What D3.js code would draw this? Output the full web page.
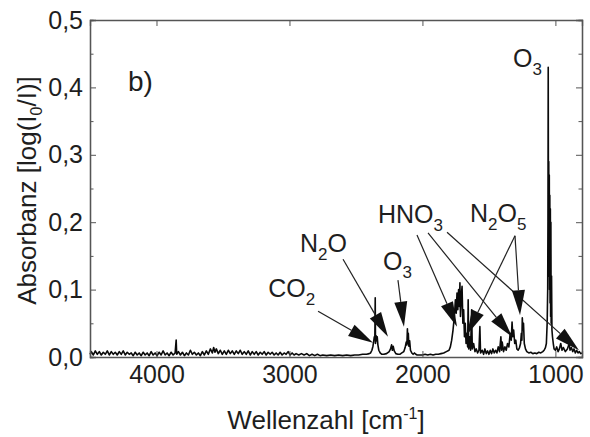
<!DOCTYPE html>
<html>
<head>
	<script src="https://d3js.org/d3.v7.min.js"></script>
	<style>
		body { margin: 0; background: #fff; }
		text { font-family: "Liberation Sans", Arial, sans-serif; fill: #1e1e1e; }
	</style>
</head>
<body>
<svg id="container"></svg>
</body>
<script>
// data: [wavenumber cm-1, absorbance]
let spectrum = [
	[4500,0.004],[4490,0.008],[4475,0.003],[4460,0.009],[4445,0.004],[4430,0.008],[4415,0.003],[4400,0.007],
	[4385,0.004],[4370,0.009],[4355,0.003],[4340,0.008],[4325,0.004],[4310,0.007],[4295,0.003],[4280,0.008],
	[4265,0.004],[4250,0.009],[4235,0.003],[4220,0.007],[4205,0.004],[4190,0.006],[4175,0.002],[4160,0.007],
	[4145,0.003],[4130,0.006],[4115,0.002],[4100,0.007],[4085,0.003],[4070,0.006],[4055,0.002],[4040,0.008],
	[4025,0.003],[4010,0.006],[3995,0.002],[3980,0.007],[3965,0.003],[3950,0.009],[3935,0.003],[3920,0.006],
	[3905,0.002],[3890,0.007],[3875,0.003],[3860,0.006],[3852,0.025],[3848,0.004],[3835,0.008],[3820,0.003],
	[3805,0.007],[3790,0.002],[3775,0.006],[3760,0.003],[3745,0.010],[3730,0.004],[3715,0.007],[3700,0.003],
	[3685,0.006],[3670,0.002],[3655,0.008],[3640,0.003],[3625,0.009],[3610,0.004],[3595,0.012],[3580,0.006],
	[3570,0.014],[3560,0.007],[3550,0.012],[3535,0.005],[3520,0.010],[3505,0.004],[3490,0.009],[3475,0.004],
	[3460,0.010],[3445,0.005],[3430,0.009],[3415,0.004],[3400,0.009],[3385,0.005],[3370,0.010],[3355,0.004],
	[3340,0.008],[3325,0.004],[3310,0.009],[3295,0.003],[3280,0.008],[3265,0.004],[3250,0.008],[3235,0.003],
	[3220,0.007],[3205,0.004],[3190,0.008],[3175,0.003],[3160,0.007],[3145,0.004],[3130,0.007],[3115,0.003],
	[3100,0.006],[3085,0.003],[3070,0.007],[3055,0.003],[3040,0.006],[3025,0.004],[3010,0.008],[2995,0.003],
	[2980,0.006],[2965,0.003],[2950,0.005],[2930,0.003],[2910,0.005],[2890,0.003],[2870,0.005],[2850,0.002],
	[2830,0.004],[2810,0.002],[2790,0.004],[2770,0.002],[2750,0.003],[2720,0.002],[2690,0.003],[2660,0.002],
	[2630,0.003],[2600,0.002],[2570,0.003],[2540,0.002],[2510,0.003],[2480,0.003],[2450,0.004],[2420,0.004],
	[2400,0.005],[2390,0.006],[2380,0.010],[2372,0.016],[2366,0.024],[2362,0.030],[2358,0.026],[2355,0.088],
	[2353,0.020],[2349,0.032],[2345,0.024],[2340,0.030],[2335,0.018],[2328,0.010],[2318,0.006],[2305,0.004],
	[2290,0.004],[2270,0.005],[2250,0.008],[2240,0.012],[2232,0.018],[2226,0.010],[2220,0.016],[2212,0.009],
	[2200,0.005],[2185,0.004],[2170,0.004],[2155,0.006],[2140,0.008],[2130,0.014],[2122,0.022],[2117,0.018],
	[2113,0.042],[2110,0.020],[2106,0.035],[2102,0.016],[2096,0.024],[2090,0.010],[2080,0.006],[2070,0.004],
	[2060,0.006],[2050,0.004],[2040,0.003],[2020,0.003],[2000,0.003],[1980,0.004],[1960,0.003],[1940,0.004],
	[1920,0.003],[1900,0.004],[1880,0.004],[1860,0.005],[1840,0.006],[1820,0.008],[1800,0.010],[1790,0.015],
	[1780,0.025],[1770,0.040],[1760,0.060],[1752,0.085],[1746,0.065],[1740,0.095],[1734,0.070],[1728,0.100],
	[1722,0.075],[1718,0.110],[1714,0.060],[1708,0.090],[1702,0.105],[1696,0.050],[1690,0.070],[1684,0.030],
	[1678,0.050],[1672,0.020],[1666,0.035],[1660,0.015],[1656,0.085],[1652,0.012],[1645,0.030],[1638,0.010],
	[1630,0.070],[1625,0.012],[1615,0.020],[1605,0.008],[1595,0.012],[1585,0.006],[1575,0.010],[1568,0.045],
	[1563,0.006],[1550,0.010],[1540,0.004],[1530,0.012],[1520,0.005],[1510,0.009],[1500,0.004],[1490,0.010],
	[1480,0.005],[1470,0.012],[1460,0.006],[1450,0.010],[1440,0.006],[1430,0.015],[1420,0.008],[1410,0.030],
	[1405,0.010],[1400,0.022],[1390,0.008],[1380,0.015],[1370,0.010],[1360,0.020],[1350,0.015],[1340,0.035],
	[1332,0.025],[1326,0.052],[1320,0.030],[1314,0.040],[1306,0.020],[1298,0.025],[1290,0.012],[1280,0.010],
	[1270,0.014],[1262,0.020],[1256,0.035],[1252,0.025],[1249,0.058],[1245,0.040],[1240,0.050],[1234,0.020],
	[1225,0.012],[1215,0.008],[1200,0.006],[1185,0.007],[1170,0.005],[1155,0.006],[1140,0.005],[1125,0.007],
	[1110,0.006],[1095,0.008],[1085,0.010],[1075,0.014],[1068,0.020],[1062,0.050],[1058,0.100],[1056,0.200],
	[1054,0.430],[1052,0.150],[1050,0.290],[1048,0.120],[1046,0.270],[1044,0.100],[1042,0.240],[1040,0.080],
	[1038,0.220],[1036,0.060],[1034,0.200],[1032,0.050],[1029,0.120],[1026,0.040],[1022,0.030],[1016,0.020],
	[1010,0.012],[1000,0.010],[990,0.015],[980,0.008],[970,0.012],[960,0.020],[950,0.010],[940,0.014],
	[925,0.008],[910,0.012],[896,0.020],[890,0.010],[880,0.014],[870,0.008],[860,0.012],[850,0.006],
	[840,0.010],[830,0.006],[820,0.008],[810,0.005],[800,0.006]
];

let xTicks = [4000, 3000, 2000, 1000];
let yTicks = [0, 0.1, 0.2, 0.3, 0.4, 0.5];
let yMinorTicks = [0.05, 0.15, 0.25, 0.35, 0.45];

// labels: position of text start (wavenumber, absorbance), parts with subscripts
let labels = [
	{wn: 4214, a: 0.394, size: 28, parts: [{t: 'b)'}]},
	{wn: 1319, a: 0.430, parts: [{t: 'O'}, {t: '3', sub: true}]},
	{wn: 3160, a: 0.089, parts: [{t: 'CO'}, {t: '2', sub: true}]},
	{wn: 2921, a: 0.156, parts: [{t: 'N'}, {t: '2', sub: true}, {t: 'O'}]},
	{wn: 2297, a: 0.129, parts: [{t: 'O'}, {t: '3', sub: true}]},
	{wn: 2334, a: 0.199, parts: [{t: 'HNO'}, {t: '3', sub: true}]},
	{wn: 1642, a: 0.200, parts: [{t: 'N'}, {t: '2', sub: true}, {t: 'O'}, {t: '5', sub: true}]}
];

// arrows: from (wn, a) to tip (wn, a)
let arrows = [
	{from: [2785, 0.068], to: [2372, 0.021]},  // CO2
	{from: [2597, 0.145], to: [2259, 0.030]},  // N2O
	{from: [2184, 0.114], to: [2139, 0.045]},  // O3
	{from: [2041, 0.181], to: [1740, 0.045]},  // HNO3
	{from: [1958, 0.184], to: [1326, 0.030]},
	{from: [1815, 0.185], to: [823, 0.010]},
	{from: [1304, 0.180], to: [1665, 0.033]},  // N2O5
	{from: [1304, 0.180], to: [1266, 0.062]}
];
</script>

<script>
let width = 590, height = 437;
let mLeft = 90, mRight = 582, mTop = 20, mBottom = 357;

let svg = d3.select('#container')
	.attr('width', width)
	.attr('height', height);

svg.append('rect')
	.attr('width', width)
	.attr('height', height)
	.attr('fill', 'white');

let x = d3.scaleLinear().domain([4500, 800]).range([mLeft, mRight]);
let y = d3.scaleLinear().domain([0, 0.5]).range([mBottom, mTop]);

// spectrum
let line = d3.line()
	.x((d) => x(d[0]))
	.y((d) => y(d[1]));

svg.append('path')
	.datum(spectrum)
	.attr('d', line)
	.attr('fill', 'none')
	.attr('stroke', '#0a0a0a')
	.attr('stroke-width', 1.6)
	.attr('stroke-linejoin', 'round');

// axes
let axisStyle = function(g) {
	g.select('.domain').attr('stroke', '#555').attr('stroke-width', 1.3);
	g.selectAll('.tick line').attr('stroke', '#555');
	g.selectAll('.tick text')
		.attr('font-size', 25)
		.attr('fill', '#1e1e1e')
		.attr('font-family', '"Liberation Sans", Arial, sans-serif');
}

svg.append('g')
	.attr('transform', `translate(0,${mBottom})`)
	.call(d3.axisBottom(x).tickValues(xTicks).tickSize(-6).tickPadding(8).tickFormat(d3.format('d')))
	.call(axisStyle);

svg.append('g')
	.attr('transform', `translate(0,${mTop})`)
	.call(d3.axisTop(x).tickValues(xTicks).tickSize(-6).tickFormat(''))
	.call(axisStyle);

svg.append('g')
	.attr('transform', `translate(${mLeft},0)`)
	.call(d3.axisLeft(y).tickValues(yTicks).tickSize(-6).tickPadding(7)
		.tickFormat((d) => d3.format('.1f')(d).replace('.', ',')))
	.call(axisStyle);

svg.append('g')
	.attr('transform', `translate(${mLeft},0)`)
	.call(d3.axisLeft(y).tickValues(yMinorTicks).tickSize(-3.5).tickFormat(''))
	.call(axisStyle);

svg.append('g')
	.attr('transform', `translate(${mRight},0)`)
	.call(d3.axisRight(y).tickValues(yTicks).tickSize(-6).tickFormat(''))
	.call(axisStyle);

svg.append('g')
	.attr('transform', `translate(${mRight},0)`)
	.call(d3.axisRight(y).tickValues(yMinorTicks).tickSize(-3.5).tickFormat(''))
	.call(axisStyle);

// axis titles
let xTitle = svg.append('text')
	.attr('x', 326)
	.attr('y', 429)
	.attr('text-anchor', 'middle')
	.attr('font-size', 26);
xTitle.append('tspan').text('Wellenzahl [cm');
xTitle.append('tspan').attr('font-size', 16).attr('dy', -10).text('-1');
xTitle.append('tspan').attr('dy', 10).text(']');

let yTitle = svg.append('text')
	.attr('transform', `translate(36,${(mTop + mBottom) / 2 + 2}) rotate(-90)`)
	.attr('text-anchor', 'middle')
	.attr('font-size', 26);
yTitle.append('tspan').text('Absorbanz [log(I');
yTitle.append('tspan').attr('font-size', 16).attr('dy', 6).text('0');
yTitle.append('tspan').attr('dy', -6).text('/I)]');

// labels
labels.forEach((l) => {
	let t = svg.append('text')
		.attr('x', x(l.wn))
		.attr('y', y(l.a))
		.attr('font-size', l.size || 25);
	let shifted = false;
	l.parts.forEach((p) => {
		let s = t.append('tspan').text(p.t);
		if (p.sub) {
			s.attr('font-size', 17).attr('dy', 8);
			shifted = true;
		} else if (shifted) {
			s.attr('dy', -8);
			shifted = false;
		}
	});
});

// arrows
let headLen = 25, headHalf = 6.5;
arrows.forEach((a) => {
	let x0 = x(a.from[0]), y0 = y(a.from[1]);
	let x1 = x(a.to[0]), y1 = y(a.to[1]);
	let dx = x1 - x0, dy = y1 - y0;
	let len = Math.sqrt(dx * dx + dy * dy);
	let ux = dx / len, uy = dy / len;
	let bx = x1 - ux * headLen, by = y1 - uy * headLen;
	svg.append('line')
		.attr('x1', x0).attr('y1', y0)
		.attr('x2', bx).attr('y2', by)
		.attr('stroke', '#222')
		.attr('stroke-width', 1.2);
	svg.append('polygon')
		.attr('points', [
			[x1, y1],
			[bx - uy * headHalf, by + ux * headHalf],
			[bx + uy * headHalf, by - ux * headHalf]
		].map((p) => p.join(',')).join(' '))
		.attr('fill', '#111');
});
</script>
</html>
